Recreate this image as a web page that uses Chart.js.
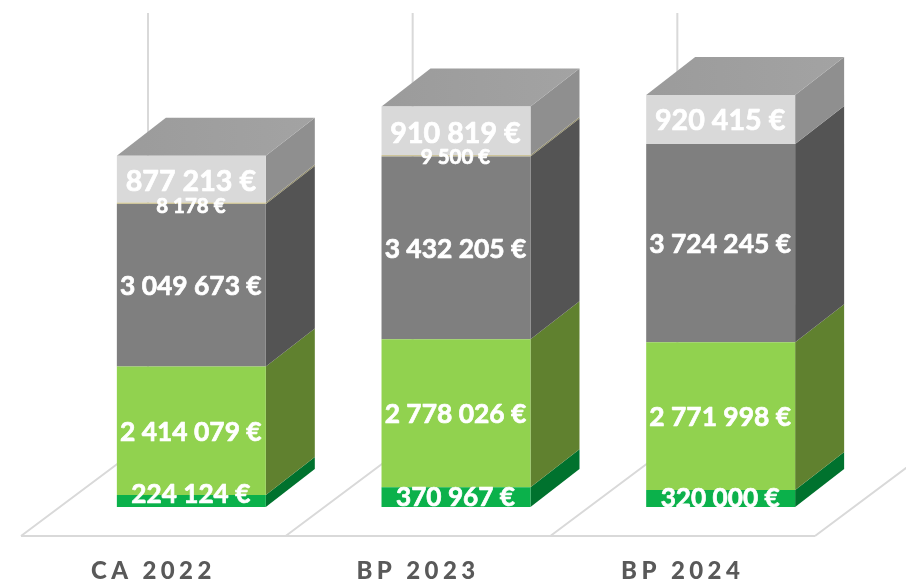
<!DOCTYPE html>
<html><head><meta charset="utf-8">
<style>html,body{margin:0;padding:0;background:#fff}#w{width:906px;height:580px}</style>
<script src="https://cdn.jsdelivr.net/npm/chart.js@4"></script>
</head><body><div id="w"><canvas id="c" width="906" height="580"></canvas></div>
<script>
const categories = ["CA 2022", "BP 2023", "BP 2024"];
const seriesA = [224124, 370967, 320000];
const seriesB = [2414079, 2778026, 2771998];
const seriesC = [3049673, 3432205, 3724245];
const seriesD = [8178, 9500, null];
const seriesE = [877213, 910819, 920415];

const DX = 49, DY = -38;
const sets = [
  {data: seriesA, backgroundColor:'#0bb14b', side:'#00722e', font:26.2, dy:[-6,0,0]},
  {data: seriesB, backgroundColor:'#91d24f', side:'#60812f', font:26.4, dy:[2,1,1]},
  {data: seriesC, backgroundColor:'#7f7f7f', side:'#545454', font:26.4, dy:[1,2,1]},
  {data: seriesD, backgroundColor:'#cdc49a', side:'#8f8a68', font:20.5, dy:[3,2,0], minBarLength:1.5},
  {data: seriesE, backgroundColor:'#d9d9d9', side:'#8f8f8f', font:28.7, dy:[3,3,1]}
];
const fmt = v => String(v).replace(/\B(?=(\d{3})+$)/g, ' ') + ' €';

const faces = {
  id:'faces',
  beforeDraw(c){ c.ctx.letterSpacing='4.4px'; },
  beforeDatasetsDraw(c){
    const g=c.ctx, x=c.scales.x, b=c.scales.y.getPixelForValue(0);
    g.letterSpacing='0px';
    g.save();
    g.strokeStyle='#d9d9d9'; g.lineWidth=2;
    const n=categories.length;
    const fx=i=>x.getPixelForValue(i-0.5)-38;
    g.beginPath();
    g.moveTo(fx(0),b+29); g.lineTo(fx(n),b+29);
    for(let i=0;i<=n;i++){
      const bx=fx(i)+127;
      g.moveTo(fx(i),b+29); g.lineTo(bx,b-66);
      if(i<n){ g.moveTo(bx,b-66); g.lineTo(bx,13); }
    }
    g.stroke();
    // side faces
    sets.forEach((s,d)=>{
      c.getDatasetMeta(d).data.forEach((e,i)=>{
        if(s.data[i]==null) return;
        const r=e.x+e.width/2;
        g.fillStyle=s.side;
        g.beginPath();
        g.moveTo(r,e.base); g.lineTo(r+DX,e.base+DY); g.lineTo(r+DX,e.y+DY); g.lineTo(r,e.y);
        g.closePath(); g.fill();
      });
    });
    // top faces
    c.getDatasetMeta(sets.length-1).data.forEach(e=>{
      const l=e.x-e.width/2, r=e.x+e.width/2;
      const t=g.createLinearGradient(l,0,r+DX,0);
      t.addColorStop(0,'#9b9b9b'); t.addColorStop(1,'#a3a3a3');
      g.fillStyle=t;
      g.beginPath();
      g.moveTo(l,e.y); g.lineTo(r,e.y); g.lineTo(r+DX,e.y+DY); g.lineTo(l+DX,e.y+DY);
      g.closePath(); g.fill();
    });
    g.restore();
  },
  afterDatasetsDraw(c){
    const g=c.ctx, b=c.scales.y.getPixelForValue(0);
    g.save();
    g.beginPath(); g.rect(0,0,906,b); g.clip();
    g.fillStyle='#fff'; g.strokeStyle='#fff'; g.lineWidth=0.7; g.lineJoin='round';
    g.textAlign='center'; g.textBaseline='middle';
    sets.forEach((s,d)=>{
      c.getDatasetMeta(d).data.forEach((e,i)=>{
        if(s.data[i]==null) return;
        g.font='bold '+s.font+'px Lato';
        const ty=(e.y+e.base)/2+s.dy[i];
        g.fillText(fmt(s.data[i]), e.x-0.5, ty);
        g.strokeText(fmt(s.data[i]), e.x-0.5, ty);
      });
    });
    g.restore();
  }
};

new Chart(document.getElementById('c'),{
  type:'bar',
  data:{labels:categories, datasets:sets.map(s=>({
    data:s.data, backgroundColor:s.backgroundColor, minBarLength:s.minBarLength,
    borderWidth:0, barPercentage:0.5628, categoryPercentage:1
  }))},
  plugins:[faces],
  options:{
    responsive:false, animation:false,
    layout:{padding:{left:59,right:53,top:1,bottom:0}},
    plugins:{legend:{display:false},tooltip:{enabled:false}},
    scales:{
      x:{stacked:true, grid:{display:false}, border:{display:false},
        afterFit(s){ s.height=73; },
        ticks:{color:'#595959',font:{family:'Lato',size:24,weight:'900'},padding:42,labelOffset:-38,autoSkip:false,maxRotation:0}},
      y:{stacked:true, display:false, min:0, max:9500000}
    }
  }
});
</script></body></html>
